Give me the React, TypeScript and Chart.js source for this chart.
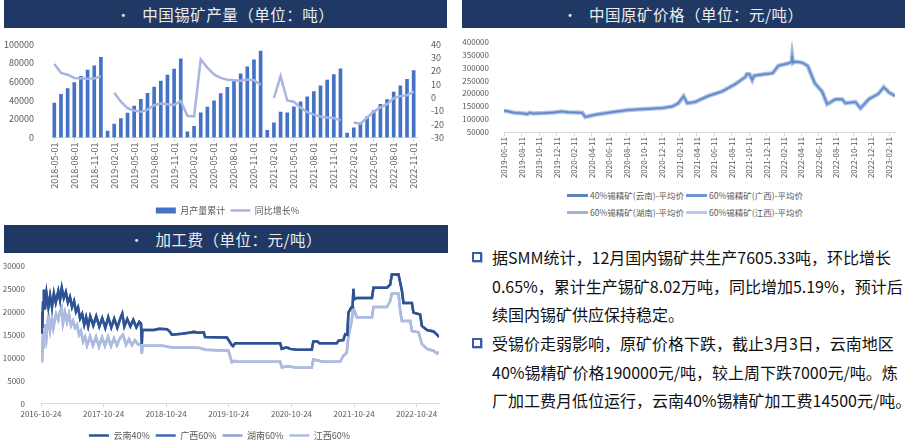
import React, { useEffect, useRef } from 'react';
import { Chart, registerables } from 'chart.js';
Chart.register(...registerables);

const FONT = '"Microsoft YaHei", "Noto Sans CJK SC", "Noto Sans", sans-serif';
const AXIS_TEXT = '#595959';
const AXIS_LINE = '#D9D9D9';
const HEADER_BG = '#203864';

// ---------- Chart 1: 中国锡矿产量 ----------
const outputMonths: string[] = [
  '2018-05-01','2018-06-01','2018-07-01','2018-08-01','2018-09-01','2018-10-01','2018-11-01','2018-12-01',
  '2019-01-01','2019-02-01','2019-03-01','2019-04-01','2019-05-01','2019-06-01','2019-07-01','2019-08-01','2019-09-01','2019-10-01','2019-11-01','2019-12-01',
  '2020-01-01','2020-02-01','2020-03-01','2020-04-01','2020-05-01','2020-06-01','2020-07-01','2020-08-01','2020-09-01','2020-10-01','2020-11-01','2020-12-01',
  '2021-01-01','2021-02-01','2021-03-01','2021-04-01','2021-05-01','2021-06-01','2021-07-01','2021-08-01','2021-09-01','2021-10-01','2021-11-01','2021-12-01',
  '2022-01-01','2022-02-01','2022-03-01','2022-04-01','2022-05-01','2022-06-01','2022-07-01','2022-08-01','2022-09-01','2022-10-01','2022-11-01',
];
const outputCumulative: number[] = [
  37000, 46500, 52500, 59000, 65700, 72400, 77000, 86200,
  7000, 14400, 20200, 26300, 33700, 41100, 47500, 54200, 60600, 67000, 73400, 84500,
  6000, 12100, 26600, 32600, 39400, 47100, 53800, 61000, 68400, 75800, 83500, 92900,
  7700, 15800, 27300, 26600, 33000, 38400, 43800, 49200, 55600, 61600, 67700, 73700,
  4700, 10400, 15500, 22200, 29000, 35700, 40700, 48800, 55600, 62600, 72000,
];
const outputYoY: (number | null)[] = [
  25.2, 18.6, 17.2, 14.8, 14.6, 14.1, 14.3, 16.2,
  null, 3.7, -3.1, -7.9, -9.7, -10.7, -9.0, -5.7, -4.5, -5.0, -5.5, -2.6,
  -13.7, -14.2, 28.7, 22.5, 17.4, 14.8, 13.4, 13.1, 12.6, 13.6, 13.1, 9.6,
  null, -0.3, 16.2, -2.2, -3.1, -7.6, -10.9, -12.8, -14.2, -14.9, -15.4, -17.1,
  null, -18.7, -19.6, -15.1, -10.7, -7.4, -5.0, -0.3, 1.1, 1.8, 4.5,
];

// ---------- Chart 2: 中国原矿价格 ----------
const priceSeriesNames: string[] = [
  '40%锡精矿(云南)-平均价', '60%锡精矿(广西)-平均价', '60%锡精矿(湖南)-平均价', '60%锡精矿(江西)-平均价',
];
const priceTickLabels: string[] = [
  '2019-06-11','2019-08-11','2019-10-11','2019-12-11','2020-02-11','2020-04-11','2020-06-11','2020-08-11',
  '2020-10-11','2020-12-11','2021-02-11','2021-04-11','2021-06-11','2021-08-11','2021-10-11','2021-12-11',
  '2022-02-11','2022-04-11','2022-06-11','2022-08-11','2022-10-11','2022-12-11','2023-02-11',
];
const priceDates: string[] = [
  '2019-06-11','2019-06-25','2019-07-17','2019-08-10','2019-09-01','2019-09-08','2019-09-20','2019-10-31','2019-12-01','2019-12-29',
  '2020-01-20','2020-03-09','2020-03-20','2020-04-23','2020-06-20','2020-08-17','2020-10-15','2020-12-14',
  '2021-01-17','2021-02-07','2021-02-25','2021-03-10','2021-04-06','2021-05-20','2021-07-09','2021-08-23','2021-09-28','2021-10-03','2021-10-12','2021-10-22','2021-10-28','2021-11-26',
  '2022-01-01','2022-01-21','2022-02-26','2022-03-08','2022-03-10','2022-03-13','2022-03-20','2022-04-13','2022-05-03','2022-05-28','2022-06-22','2022-07-10','2022-08-07','2022-08-31','2022-09-11','2022-10-16','2022-11-03','2022-12-01',
  '2023-01-05','2023-01-23','2023-02-10','2023-03-03',
];
const priceYunnan40: number[] = [
  133000, 130000, 124500, 123000, 119600, 125000, 122000, 123300, 126000, 129300,
  127000, 124500, 108400, 117000, 127000, 135600, 139300, 143000,
  149400, 161700, 188900, 161700, 166500, 188900, 207500, 235000, 263300, 274500, 275000, 252000, 268000, 273400,
  278200, 306900, 316900, 322000, 344100, 318000, 322900, 319200, 306900, 238800, 207500, 158000, 176600, 176600, 161700, 166500, 142000, 176600,
  199000, 223900, 203800, 190000,
];
const priceGuangxi60: number[] = priceYunnan40;
const priceHunan60: number[] = priceYunnan40;
const priceJiangxi60: number[] = priceYunnan40;
const priceColors: string[] = ['#5F84C2', '#6F95D2', '#9DB6E1', '#B8CBEA'];
const priceWidths: number[] = [1, 1.6, 3, 4.5];

// ---------- Chart 3: 加工费 ----------
const feeSeriesNames: string[] = ['云南40%', '广西60%', '湖南60%', '江西60%'];
const feeTickLabels: string[] = ['2016-10-24','2017-10-24','2018-10-24','2019-10-24','2020-10-24','2021-10-24','2022-10-24'];
const feeYunnanDates: string[] = [
  '2016-10-24','2016-10-28','2016-11-01','2016-11-05','2016-11-10','2016-11-16','2016-11-25','2016-12-06','2016-12-16','2016-12-27',
  '2017-01-07','2017-01-18','2017-02-02','2017-02-12','2017-02-22','2017-03-06','2017-03-18','2017-03-30','2017-04-11','2017-04-23',
  '2017-05-05','2017-05-16','2017-05-28','2017-06-09','2017-06-21','2017-07-03','2017-07-14','2017-07-26','2017-08-07','2017-08-25',
  '2017-09-11','2017-09-29','2017-10-16','2017-11-03','2017-11-20','2017-12-08','2017-12-25','2018-01-12','2018-01-29','2018-02-10',
  '2018-02-22','2018-03-11','2018-03-29','2018-04-15','2018-05-03','2018-05-20','2018-05-30','2018-06-04','2018-06-07','2018-08-15',
  '2018-09-13','2018-10-29','2018-11-15','2018-11-26','2019-01-24','2019-03-05','2019-04-03','2019-05-02','2019-05-31','2019-06-08',
  '2019-10-13','2019-10-20','2019-11-11','2019-11-18','2019-11-30','2020-08-19','2020-08-28','2020-09-20','2020-10-06','2020-10-15',
  '2020-11-24','2021-02-19','2021-02-28','2021-03-25','2021-04-05','2021-07-15','2021-07-25','2021-08-22','2021-09-02','2021-09-14',
  '2021-09-21','2021-10-07','2021-10-15','2021-10-20','2021-10-24','2021-11-09','2022-02-05','2022-02-14','2022-05-03','2022-05-22',
  '2022-06-01','2022-07-10','2022-07-30','2022-08-08','2022-09-26','2022-10-05','2022-11-13','2022-11-23','2022-12-23','2023-01-30',
  '2023-02-19','2023-03-03',
];
const feeYunnan40: number[] = [
  15500, 19800, 16500, 22000, 24800, 20500, 24000, 21000, 23500, 21000,
  24000, 22000, 24500, 22500, 25200, 23000, 24300, 22000, 23200, 21000,
  22300, 20000, 21000, 18500, 19500, 17200, 18800, 16800, 19000, 17000,
  19000, 16800, 18600, 16500, 18800, 16600, 18500, 16500, 18500, 19600,
  16800, 18400, 16800, 18200, 16600, 17800, 17400, 13000, 16000, 16000,
  16300, 16200, 15600, 15000, 15200, 15400, 15600, 15400, 15500, 14500,
  14400, 14000, 12700, 12500, 13100, 13100, 11900, 12200, 12100, 11900,
  11700, 11700, 13500, 13500, 13100, 13100, 13700, 13800, 15100, 15000,
  19800, 20900, 21000, 25000, 22700, 23000, 23000, 25200, 25200, 25900,
  28100, 28100, 24500, 21900, 21900, 19800, 19400, 16900, 16000, 15700,
  15000, 14500,
];
const feeJiangxiDates: string[] = [
  '2016-10-24','2016-10-30','2016-11-05','2016-11-10','2016-11-16','2016-11-25','2016-12-06','2016-12-16','2016-12-27','2017-01-04',
  '2017-01-20','2017-02-02','2017-02-12','2017-02-22','2017-03-01','2017-03-13','2017-03-25','2017-04-05','2017-04-17','2017-04-29',
  '2017-05-10','2017-05-22','2017-06-03','2017-06-14','2017-06-26','2017-07-08','2017-07-19','2017-08-06','2017-08-23','2017-09-10',
  '2017-09-27','2017-10-15','2017-11-01','2017-11-19','2017-12-06','2017-12-24','2018-01-10','2018-01-28','2018-02-14','2018-03-04',
  '2018-03-21','2018-04-08','2018-04-25','2018-05-13','2018-05-30','2018-06-04','2018-06-08','2018-10-06','2018-11-26','2019-03-12',
  '2019-05-10','2019-06-08','2019-10-22','2019-11-11','2019-11-30','2019-12-10','2020-08-19','2020-08-28','2020-10-06','2020-11-24',
  '2021-02-19','2021-02-28','2021-04-27','2021-08-03','2021-08-22','2021-09-11','2021-09-20','2021-10-10','2021-10-19','2021-11-09',
  '2022-02-05','2022-02-14','2022-05-03','2022-05-22','2022-06-01','2022-07-10','2022-07-20','2022-07-30','2022-09-16','2022-09-26',
  '2022-11-04','2022-11-23','2022-12-23','2023-01-30','2023-02-19','2023-03-03',
];
const feeJiangxi60: number[] = [
  12500, 9000, 15500, 12000, 17300, 14500, 19400, 16000, 18500, 16500,
  19500, 18200, 20000, 20900, 17500, 19800, 17800, 19500, 17000, 18000,
  16500, 17200, 15000, 15800, 13500, 14500, 12600, 14600, 12600, 14500,
  12400, 14400, 12600, 14500, 12500, 14200, 12700, 14300, 15000, 12800,
  14000, 12700, 13800, 12900, 12800, 10800, 12600, 12600, 12200, 12200,
  12100, 11700, 11500, 9000, 9300, 9100, 9100, 7900, 8100, 7800,
  7800, 9600, 9100, 9100, 10400, 11100, 14400, 18000, 20900, 18800,
  18800, 21000, 21000, 22300, 23900, 23900, 20100, 18000, 18000, 15800,
  15500, 13000, 11900, 11500, 10900, 11200,
];
const feeGuangxi60: number[] = feeYunnan40;
const feeHunan60: number[] = feeJiangxi60;
const feeColors: string[] = ['#2F5293', '#4068B4', '#8CA3D8', '#AEBCE2'];

// ---------- Text ----------
const headerTitles: string[] = ['中国锡矿产量（单位：吨）', '中国原矿价格（单位：元/吨）', '加工费（单位：元/吨）'];
const paragraphLines: string[][] = [
  ['据SMM统计，12月国内锡矿共生产7605.33吨，环比增长', '0.65%，累计生产锡矿8.02万吨，同比增加5.19%，预计后', '续国内锡矿供应保持稳定。'],
  ['受锡价走弱影响，原矿价格下跌，截止3月3日，云南地区', '40%锡精矿价格190000元/吨，较上周下跌7000元/吨。炼', '厂加工费月低位运行，云南40%锡精矿加工费14500元/吨。'],
];

const day = (s: string) => {
  const [y, m, d] = s.split('-').map(Number);
  return Date.UTC(y, m - 1, d) / 86400000;
};
const toXY = (dates: string[], vals: number[]) => dates.map((d, i) => ({ x: day(d), y: vals[i] }));
const tickFont = (size: number) => ({ size, family: FONT });
const plain = (v: any) => String(v);

function makeOutputChart(canvas: HTMLCanvasElement) {
  return new Chart(canvas, {
    type: 'bar',
    data: {
      labels: outputMonths,
      datasets: [
        {
          type: 'bar', label: '月产量累计', data: outputCumulative, backgroundColor: '#4472C4',
          borderWidth: 0, barThickness: 3, yAxisID: 'y', order: 1, pointStyle: 'rect',
        } as any,
        {
          type: 'line', label: '同比增长%', data: outputYoY, borderColor: '#A7B5E0', backgroundColor: '#A7B5E0',
          borderWidth: 2.5, pointRadius: 0, yAxisID: 'y1', order: 0, spanGaps: false, pointStyle: 'line', tension: 0,
        } as any,
      ],
    },
    options: {
      responsive: true, maintainAspectRatio: false, animation: false,
      layout: { padding: { top: 8, left: 0, right: 0, bottom: 0 } },
      plugins: {
        tooltip: { enabled: false },
        legend: {
          position: 'bottom',
          labels: {
            usePointStyle: true, pointStyleWidth: 20, boxHeight: 6, padding: 5,
            font: tickFont(9), color: AXIS_TEXT,
            sort: (a: any, b: any) => a.datasetIndex - b.datasetIndex,
          },
        },
      },
      scales: {
        x: {
          type: 'category', offset: true,
          grid: { display: true, drawOnChartArea: false, tickLength: 4, color: AXIS_LINE, offset: false },
          border: { display: true, color: AXIS_LINE },
          ticks: { autoSkip: false, minRotation: 90, maxRotation: 90, font: tickFont(9), color: AXIS_TEXT, padding: 1 },
          afterBuildTicks: (s: any) => { s.ticks = s.ticks.filter((_: any, i: number) => i % 3 === 0); },
          afterFit: (s: any) => { s.height = 63.5; },
        },
        y: {
          position: 'left', min: 0, max: 100000,
          ticks: { stepSize: 20000, autoSkip: false, font: tickFont(9), color: AXIS_TEXT, padding: 9, callback: plain },
          grid: { display: false }, border: { display: false },
          afterFit: (s: any) => { s.width = 51; },
        },
        y1: {
          position: 'right', min: -30, max: 40,
          ticks: { stepSize: 10, autoSkip: false, font: tickFont(9), color: AXIS_TEXT, padding: 6, callback: plain },
          grid: { display: false }, border: { display: false },
          afterFit: (s: any) => { s.width = 38; },
        },
      },
    } as any,
  });
}

function makePriceChart(canvas: HTMLCanvasElement) {
  const series = [priceYunnan40, priceGuangxi60, priceHunan60, priceJiangxi60];
  return new Chart(canvas, {
    type: 'line',
    data: {
      datasets: series.map((vals, i) => ({
        label: priceSeriesNames[i], data: toXY(priceDates, vals), borderColor: priceColors[i],
        backgroundColor: priceColors[i], borderWidth: priceWidths[i], pointRadius: 0, tension: 0,
      })),
    },
    options: {
      responsive: true, maintainAspectRatio: false, animation: false,
      layout: { padding: { top: 8, left: 0, right: 15, bottom: 0 } },
      plugins: { tooltip: { enabled: false }, legend: { display: false } },
      scales: {
        x: {
          type: 'linear', min: day(priceTickLabels[0]), max: day(priceDates[priceDates.length - 1]),
          afterBuildTicks: (s: any) => { s.ticks = priceTickLabels.map((l) => ({ value: day(l) })); },
          ticks: {
            autoSkip: false, minRotation: 90, maxRotation: 90, font: tickFont(8), color: AXIS_TEXT, padding: 1,
            callback: (_v: any, i: number) => priceTickLabels[i],
          },
          grid: { display: true, drawOnChartArea: false, tickLength: 4, color: AXIS_LINE },
          border: { display: true, color: AXIS_LINE },
          afterFit: (s: any) => { s.height = 53; },
        },
        y: {
          min: 50000, max: 400000,
          ticks: { stepSize: 50000, autoSkip: false, font: tickFont(8), color: AXIS_TEXT, padding: 7, callback: plain },
          grid: { display: false }, border: { display: false },
          afterFit: (s: any) => { s.width = 49; },
        },
      },
    } as any,
  });
}

function makeFeeChart(canvas: HTMLCanvasElement) {
  const series = [
    toXY(feeYunnanDates, feeYunnan40), toXY(feeYunnanDates, feeGuangxi60),
    toXY(feeJiangxiDates, feeHunan60), toXY(feeJiangxiDates, feeJiangxi60),
  ];
  const drawOrder = [0, 1, 3, 2];
  return new Chart(canvas, {
    type: 'line',
    data: {
      datasets: series.map((data, i) => ({
        label: feeSeriesNames[i], data, borderColor: feeColors[i], backgroundColor: feeColors[i],
        borderWidth: 2.5, pointRadius: 0, tension: 0, order: drawOrder[i], pointStyle: 'line',
      })),
    },
    options: {
      responsive: true, maintainAspectRatio: false, animation: false,
      layout: { padding: { top: 11, left: 0, right: 16, bottom: 0 } },
      plugins: {
        tooltip: { enabled: false },
        legend: {
          position: 'bottom',
          labels: {
            usePointStyle: true, pointStyleWidth: 20, boxHeight: 6, padding: 6,
            font: tickFont(9), color: AXIS_TEXT,
            sort: (a: any, b: any) => a.datasetIndex - b.datasetIndex,
          },
        },
      },
      scales: {
        x: {
          type: 'linear', min: day(feeTickLabels[0]), max: day(feeYunnanDates[feeYunnanDates.length - 1]),
          afterBuildTicks: (s: any) => { s.ticks = feeTickLabels.map((l) => ({ value: day(l) })); },
          ticks: {
            autoSkip: false, minRotation: 0, maxRotation: 0, font: tickFont(8), color: AXIS_TEXT, padding: 2,
            callback: (_v: any, i: number) => feeTickLabels[i],
          },
          grid: { display: true, drawOnChartArea: false, tickLength: 4, color: AXIS_LINE },
          border: { display: true, color: AXIS_LINE },
          afterFit: (s: any) => { s.height = 21.5; },
        },
        y: {
          min: 0, max: 30000,
          ticks: { stepSize: 5000, autoSkip: false, font: tickFont(8), color: AXIS_TEXT, padding: 8, callback: plain },
          grid: { display: false }, border: { display: false },
          afterFit: (s: any) => { s.width = 41; },
        },
      },
    } as any,
  });
}

function ChartBox({ box, make }: { box: React.CSSProperties; make: (c: HTMLCanvasElement) => Chart }) {
  const ref = useRef<HTMLCanvasElement>(null);
  useEffect(() => {
    const chart = make(ref.current as HTMLCanvasElement);
    return () => chart.destroy();
  }, []);
  return (
    <div style={{ position: 'absolute', ...box }}>
      <canvas ref={ref} />
    </div>
  );
}

function Header({ title, box }: { title: string; box: React.CSSProperties }) {
  return (
    <div
      style={{
        position: 'absolute', ...box, background: HEADER_BG, color: '#ECECEC',
        display: 'flex', alignItems: 'center', justifyContent: 'center',
        fontSize: 15.5, fontFamily: FONT, letterSpacing: 0.5, whiteSpace: 'nowrap',
      }}
    >
      <span style={{ marginRight: 12, fontSize: 13 }}>•</span>
      <span>{title}</span>
    </div>
  );
}

export default function App() {
  const lineCenters = [[257, 285.5, 314], [343, 371.5, 400]];
  return (
    <div style={{ position: 'fixed', left: 0, top: 0, width: 910, height: 446, overflow: 'hidden', background: '#fff', fontFamily: FONT }}>
      <Header title={headerTitles[0]} box={{ left: 4, top: 0, width: 443, height: 28 }} />
      <Header title={headerTitles[1]} box={{ left: 462, top: 0, width: 443, height: 28 }} />
      <Header title={headerTitles[2]} box={{ left: 4, top: 225, width: 444, height: 28 }} />

      <ChartBox box={{ left: 0, top: 30, width: 455, height: 195 }} make={makeOutputChart} />
      <ChartBox box={{ left: 455, top: 30, width: 455, height: 155 }} make={makePriceChart} />
      <ChartBox box={{ left: 0, top: 253, width: 455, height: 197 }} make={makeFeeChart} />

      {priceSeriesNames.map((name, i) => (
        <div
          key={name}
          style={{
            position: 'absolute', left: 567 + (i % 2) * 119, top: (i < 2 ? 195 : 212) - 7, height: 14,
            display: 'flex', alignItems: 'center', whiteSpace: 'nowrap',
            fontSize: 8.5, color: AXIS_TEXT, fontFamily: FONT,
          }}
        >
          <span style={{ display: 'inline-block', width: 21, height: 3, background: priceColors[i], marginRight: 2 }} />
          <span>{name}</span>
        </div>
      ))}

      {paragraphLines.map((lines, p) => (
        <React.Fragment key={p}>
          <div
            style={{
              position: 'absolute', left: 472, top: lineCenters[p][0] - 5, width: 6, height: 6,
              border: '2px solid #3A5CA6', boxShadow: '1px 1px 0 #B7C3DA',
            }}
          />
          {lines.map((t, j) => (
            <div
              key={j}
              style={{
                position: 'absolute', left: 492, top: lineCenters[p][j] - 11, height: 22, lineHeight: '22px',
                fontSize: 16, color: '#111', whiteSpace: 'nowrap', fontFamily: FONT,
              }}
            >
              {t}
            </div>
          ))}
        </React.Fragment>
      ))}
    </div>
  );
}
